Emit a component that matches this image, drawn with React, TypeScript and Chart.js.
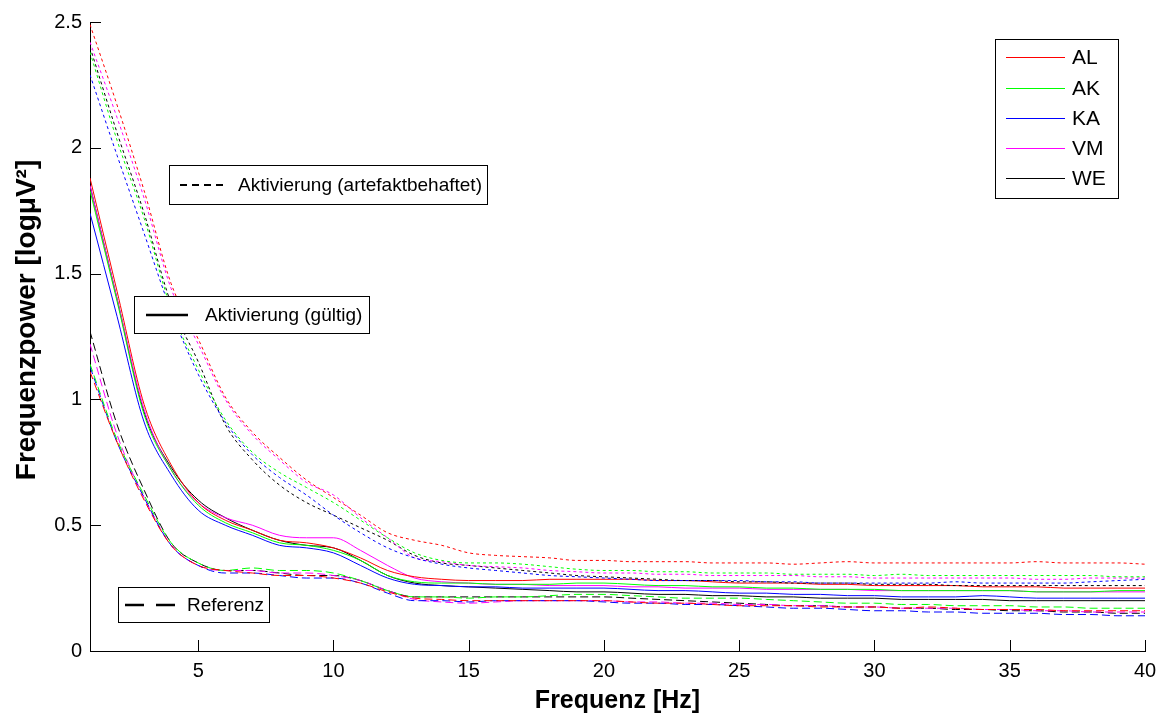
import React, { useEffect, useRef } from "react";
import { Chart, registerables } from "chart.js";

Chart.register(...registerables);

const FREQ = [1, 2, 3, 4, 5, 6, 7, 8, 9, 10, 11, 12, 13, 14, 15, 16, 17, 18, 19, 20, 21, 22, 23, 24, 25, 26, 27, 28, 29, 30, 31, 32, 33, 34, 35, 36, 37, 38, 39, 40];
const SUBJECTS = ["AL", "AK", "KA", "VM", "WE"];
const COLORS = ["#ff0000", "#00ff00", "#0000ff", "#ff00ff", "#000000"];
const X_TICKS = [5, 10, 15, 20, 25, 30, 35, 40];
const Y_TICKS = [0, 0.5, 1, 1.5, 2, 2.5];
const CONDITIONS = ["Aktivierung (artefaktbehaftet)", "Aktivierung (gültig)", "Referenz"];
const X_TITLE = "Frequenz [Hz]";
const Y_TITLE = "Frequenzpower [logμV²]";

// Aktivierung (artefaktbehaftet) – dotted
const AL_ART = [2.49, 2.17, 1.83, 1.46, 1.24, 1.01, 0.87, 0.77, 0.68, 0.61, 0.54, 0.47, 0.44, 0.42, 0.39, 0.38, 0.375, 0.37, 0.36, 0.36, 0.355, 0.355, 0.355, 0.35, 0.35, 0.35, 0.345, 0.35, 0.355, 0.35, 0.35, 0.35, 0.35, 0.35, 0.35, 0.355, 0.35, 0.35, 0.35, 0.345];
const AK_ART = [2.38, 2.03, 1.72, 1.36, 1.12, 0.92, 0.79, 0.71, 0.65, 0.59, 0.52, 0.45, 0.39, 0.36, 0.35, 0.35, 0.345, 0.335, 0.325, 0.32, 0.32, 0.315, 0.315, 0.31, 0.31, 0.31, 0.305, 0.305, 0.305, 0.3, 0.305, 0.3, 0.3, 0.3, 0.3, 0.3, 0.3, 0.3, 0.295, 0.295];
const KA_ART = [2.29, 1.97, 1.66, 1.35, 1.1, 0.91, 0.78, 0.69, 0.62, 0.54, 0.47, 0.41, 0.37, 0.345, 0.33, 0.32, 0.31, 0.3, 0.295, 0.29, 0.285, 0.28, 0.28, 0.28, 0.28, 0.275, 0.275, 0.27, 0.27, 0.27, 0.27, 0.27, 0.275, 0.27, 0.27, 0.27, 0.27, 0.275, 0.28, 0.285];
const VM_ART = [2.42, 2.12, 1.8, 1.44, 1.22, 1.0, 0.86, 0.76, 0.67, 0.62, 0.53, 0.45, 0.37, 0.355, 0.34, 0.335, 0.33, 0.32, 0.315, 0.31, 0.31, 0.305, 0.305, 0.3, 0.3, 0.3, 0.3, 0.295, 0.295, 0.29, 0.29, 0.29, 0.29, 0.29, 0.29, 0.285, 0.285, 0.29, 0.29, 0.29];
const WE_ART = [2.4, 2.06, 1.74, 1.38, 1.15, 0.9, 0.76, 0.66, 0.59, 0.54, 0.49, 0.44, 0.38, 0.35, 0.34, 0.33, 0.32, 0.31, 0.3, 0.295, 0.29, 0.285, 0.28, 0.28, 0.275, 0.275, 0.27, 0.27, 0.27, 0.265, 0.265, 0.265, 0.26, 0.26, 0.26, 0.26, 0.26, 0.26, 0.26, 0.26];

// Aktivierung (gültig) – solid
const AL_VAL = [1.88, 1.43, 0.98, 0.74, 0.59, 0.52, 0.48, 0.44, 0.43, 0.41, 0.37, 0.32, 0.295, 0.285, 0.28, 0.28, 0.28, 0.285, 0.285, 0.285, 0.285, 0.28, 0.28, 0.275, 0.27, 0.27, 0.27, 0.265, 0.265, 0.26, 0.26, 0.26, 0.26, 0.255, 0.255, 0.255, 0.25, 0.25, 0.25, 0.25];
const AK_VAL = [1.83, 1.39, 0.94, 0.72, 0.58, 0.51, 0.47, 0.43, 0.42, 0.4, 0.36, 0.3, 0.275, 0.27, 0.27, 0.265, 0.265, 0.265, 0.27, 0.27, 0.265, 0.26, 0.26, 0.255, 0.255, 0.25, 0.25, 0.245, 0.245, 0.245, 0.24, 0.24, 0.24, 0.24, 0.24, 0.235, 0.235, 0.235, 0.24, 0.24];
const KA_VAL = [1.74, 1.33, 0.91, 0.7, 0.56, 0.5, 0.46, 0.42, 0.41, 0.39, 0.34, 0.29, 0.265, 0.26, 0.255, 0.255, 0.25, 0.25, 0.25, 0.25, 0.245, 0.24, 0.24, 0.235, 0.23, 0.23, 0.225, 0.225, 0.22, 0.22, 0.215, 0.215, 0.215, 0.22, 0.215, 0.21, 0.21, 0.21, 0.21, 0.21];
const VM_VAL = [1.85, 1.4, 0.96, 0.72, 0.59, 0.53, 0.5, 0.46, 0.45, 0.45, 0.4, 0.34, 0.29, 0.275, 0.27, 0.265, 0.265, 0.26, 0.26, 0.26, 0.255, 0.255, 0.25, 0.25, 0.25, 0.245, 0.245, 0.245, 0.245, 0.24, 0.24, 0.24, 0.24, 0.24, 0.24, 0.235, 0.235, 0.235, 0.235, 0.235];
const WE_VAL = [1.85, 1.4, 0.95, 0.73, 0.6, 0.53, 0.48, 0.44, 0.42, 0.41, 0.36, 0.3, 0.27, 0.26, 0.255, 0.25, 0.245, 0.24, 0.235, 0.235, 0.23, 0.225, 0.225, 0.22, 0.22, 0.215, 0.215, 0.21, 0.21, 0.21, 0.205, 0.205, 0.205, 0.205, 0.2, 0.2, 0.2, 0.2, 0.2, 0.2];

// Referenz – dashed
const AL_REF = [1.11, 0.83, 0.6, 0.42, 0.34, 0.32, 0.31, 0.3, 0.3, 0.29, 0.27, 0.235, 0.21, 0.205, 0.2, 0.2, 0.2, 0.2, 0.2, 0.2, 0.195, 0.19, 0.19, 0.185, 0.18, 0.18, 0.18, 0.175, 0.175, 0.175, 0.17, 0.175, 0.17, 0.165, 0.165, 0.165, 0.16, 0.16, 0.16, 0.16];
const AK_REF = [1.14, 0.84, 0.62, 0.43, 0.35, 0.32, 0.33, 0.32, 0.32, 0.31, 0.28, 0.24, 0.215, 0.215, 0.21, 0.215, 0.215, 0.22, 0.225, 0.225, 0.22, 0.215, 0.21, 0.21, 0.21, 0.205, 0.2, 0.195, 0.19, 0.19, 0.185, 0.185, 0.18, 0.18, 0.18, 0.175, 0.175, 0.17, 0.17, 0.17];
const KA_REF = [1.13, 0.83, 0.61, 0.42, 0.34, 0.31, 0.31, 0.3, 0.29, 0.29, 0.27, 0.23, 0.2, 0.2, 0.195, 0.2, 0.2, 0.2, 0.2, 0.195, 0.19, 0.19, 0.185, 0.185, 0.18, 0.175, 0.17, 0.17, 0.165, 0.16, 0.16, 0.155, 0.155, 0.15, 0.15, 0.15, 0.145, 0.145, 0.14, 0.14];
const VM_REF = [1.22, 0.86, 0.61, 0.42, 0.34, 0.32, 0.32, 0.31, 0.31, 0.3, 0.28, 0.24, 0.205, 0.195, 0.19, 0.195, 0.2, 0.2, 0.2, 0.2, 0.195, 0.195, 0.19, 0.19, 0.185, 0.185, 0.18, 0.18, 0.175, 0.175, 0.17, 0.17, 0.17, 0.165, 0.165, 0.16, 0.16, 0.155, 0.155, 0.155];
const WE_REF = [1.27, 0.9, 0.64, 0.43, 0.35, 0.32, 0.32, 0.31, 0.3, 0.3, 0.28, 0.24, 0.215, 0.215, 0.215, 0.215, 0.215, 0.215, 0.215, 0.215, 0.21, 0.205, 0.2, 0.195, 0.19, 0.185, 0.18, 0.18, 0.175, 0.175, 0.17, 0.17, 0.165, 0.165, 0.16, 0.16, 0.155, 0.155, 0.15, 0.15];

const ART_SERIES = [AL_ART, AK_ART, KA_ART, VM_ART, WE_ART];
const VAL_SERIES = [AL_VAL, AK_VAL, KA_VAL, VM_VAL, WE_VAL];
const REF_SERIES = [AL_REF, AK_REF, KA_REF, VM_REF, WE_REF];

const FONT = "'Liberation Sans', Arial, sans-serif";
const DOTTED = [3, 3];
const DASHED = [8, 4];

function drawBox(ctx: CanvasRenderingContext2D, x0: number, y0: number, x1: number, y1: number) {
  ctx.fillStyle = "#fff";
  ctx.fillRect(x0, y0, x1 - x0, y1 - y0);
  ctx.strokeStyle = "#000";
  ctx.lineWidth = 1;
  ctx.setLineDash([]);
  ctx.strokeRect(x0 + 0.5, y0 + 0.5, x1 - x0, y1 - y0);
}

const overlayPlugin = {
  id: "overlay",
  afterDraw(chart: any) {
    const { ctx, chartArea, scales } = chart;
    ctx.save();
    // inward ticks (MATLAB style)
    ctx.strokeStyle = "#000";
    ctx.lineWidth = 1;
    ctx.setLineDash([]);
    ctx.beginPath();
    for (const v of X_TICKS) {
      const x = Math.round(scales.x.getPixelForValue(v)) + 0.5;
      ctx.moveTo(x, chartArea.bottom);
      ctx.lineTo(x, chartArea.bottom - 11);
    }
    for (const v of Y_TICKS) {
      const y = Math.round(scales.y.getPixelForValue(v)) + 0.5;
      ctx.moveTo(chartArea.left, y);
      ctx.lineTo(chartArea.left + 11, y);
    }
    ctx.stroke();

    // y-axis title
    ctx.save();
    ctx.translate(27, 320);
    ctx.rotate(-Math.PI / 2);
    ctx.font = `bold 28px ${FONT}`;
    ctx.fillStyle = "#000";
    ctx.textAlign = "center";
    ctx.textBaseline = "middle";
    ctx.fillText(Y_TITLE, 0, 0);
    ctx.restore();

    // line-style annotation boxes
    ctx.font = `19px ${FONT}`;
    ctx.textBaseline = "middle";
    ctx.textAlign = "left";

    drawBox(ctx, 169, 165, 487, 204);
    ctx.strokeStyle = "#000";
    ctx.lineWidth = 2;
    ctx.setLineDash([7, 5]);
    ctx.beginPath();
    ctx.moveTo(180, 185);
    ctx.lineTo(226, 185);
    ctx.stroke();
    ctx.setLineDash([]);
    ctx.fillStyle = "#000";
    ctx.fillText(CONDITIONS[0], 238, 186);

    drawBox(ctx, 134, 296, 369, 333);
    ctx.lineWidth = 2.5;
    ctx.beginPath();
    ctx.moveTo(146, 315);
    ctx.lineTo(188, 315);
    ctx.stroke();
    ctx.fillStyle = "#000";
    ctx.fillText(CONDITIONS[1], 205, 316);

    drawBox(ctx, 118, 587, 269, 622);
    ctx.lineWidth = 2.5;
    ctx.setLineDash([19, 12]);
    ctx.beginPath();
    ctx.moveTo(125, 605);
    ctx.lineTo(177, 605);
    ctx.stroke();
    ctx.setLineDash([]);
    ctx.fillStyle = "#000";
    ctx.fillText(CONDITIONS[2], 187, 606);

    // subject legend
    drawBox(ctx, 995, 39, 1118, 198);
    const rows = [57, 88, 118, 148, 178];
    ctx.font = `21px ${FONT}`;
    SUBJECTS.forEach((s, i) => {
      ctx.strokeStyle = COLORS[i];
      ctx.lineWidth = 1;
      ctx.beginPath();
      ctx.moveTo(1006, rows[i] + 0.5);
      ctx.lineTo(1065, rows[i] + 0.5);
      ctx.stroke();
      ctx.fillStyle = "#000";
      ctx.fillText(s, 1072, rows[i] + 1);
    });
    ctx.restore();
  },
};

export default function App() {
  const ref = useRef<HTMLCanvasElement | null>(null);
  useEffect(() => {
    document.body.style.margin = "0";
    const canvas = ref.current;
    if (!canvas) return;
    const mk = (series: number[][], dash: number[], cond: string) =>
      series.map((vals, i) => ({
        label: `${SUBJECTS[i]} – ${cond}`,
        data: vals.map((v, j) => ({ x: FREQ[j], y: v })),
        borderColor: COLORS[i],
        backgroundColor: COLORS[i],
        borderWidth: 1,
        borderDash: dash,
        pointRadius: 0,
        fill: false,
        cubicInterpolationMode: "monotone" as const,
      }));
    const datasets = [
      ...mk(ART_SERIES, DOTTED, CONDITIONS[0]),
      ...mk(VAL_SERIES, [], CONDITIONS[1]),
      ...mk(REF_SERIES, DASHED, CONDITIONS[2]),
    ];
    const chart = new Chart(canvas, {
      type: "line",
      data: { datasets },
      options: {
        animation: false,
        responsive: false,
        maintainAspectRatio: false,
        layout: { padding: { left: 0, top: 22, right: 20, bottom: 0 } },
        plugins: { legend: { display: false }, tooltip: { enabled: false } },
        scales: {
          x: {
            type: "linear",
            min: 1,
            max: 40,
            afterBuildTicks: (s: any) => {
              s.ticks = X_TICKS.map((v) => ({ value: v }));
            },
            afterFit: (s: any) => {
              s.height = 65;
            },
            grid: { display: true, drawOnChartArea: false, drawTicks: false },
            border: { display: true, color: "#000", width: 1 },
            ticks: {
              color: "#000",
              font: { family: FONT, size: 20 },
              padding: 8,
              maxRotation: 0,
              autoSkip: false,
              callback: (v: any) => String(v),
            },
            title: {
              display: true,
              text: X_TITLE,
              color: "#000",
              font: { family: FONT, size: 25, weight: "bold" },
              padding: { top: 4, bottom: 0 },
            },
          },
          y: {
            type: "linear",
            min: 0,
            max: 2.5,
            afterBuildTicks: (s: any) => {
              s.ticks = Y_TICKS.map((v) => ({ value: v }));
            },
            afterFit: (s: any) => {
              s.width = 90;
            },
            grid: { display: true, drawOnChartArea: false, drawTicks: false },
            border: { display: true, color: "#000", width: 1 },
            ticks: {
              color: "#000",
              font: { family: FONT, size: 20 },
              padding: 8,
              callback: (v: any) => String(v),
            },
            title: { display: false },
          },
        },
      },
      plugins: [overlayPlugin],
    });
    return () => chart.destroy();
  }, []);
  return (
    <div style={{ width: 1165, height: 716 }}>
      <canvas ref={ref} width={1165} height={716} style={{ display: "block", width: 1165, height: 716 }} />
    </div>
  );
}
